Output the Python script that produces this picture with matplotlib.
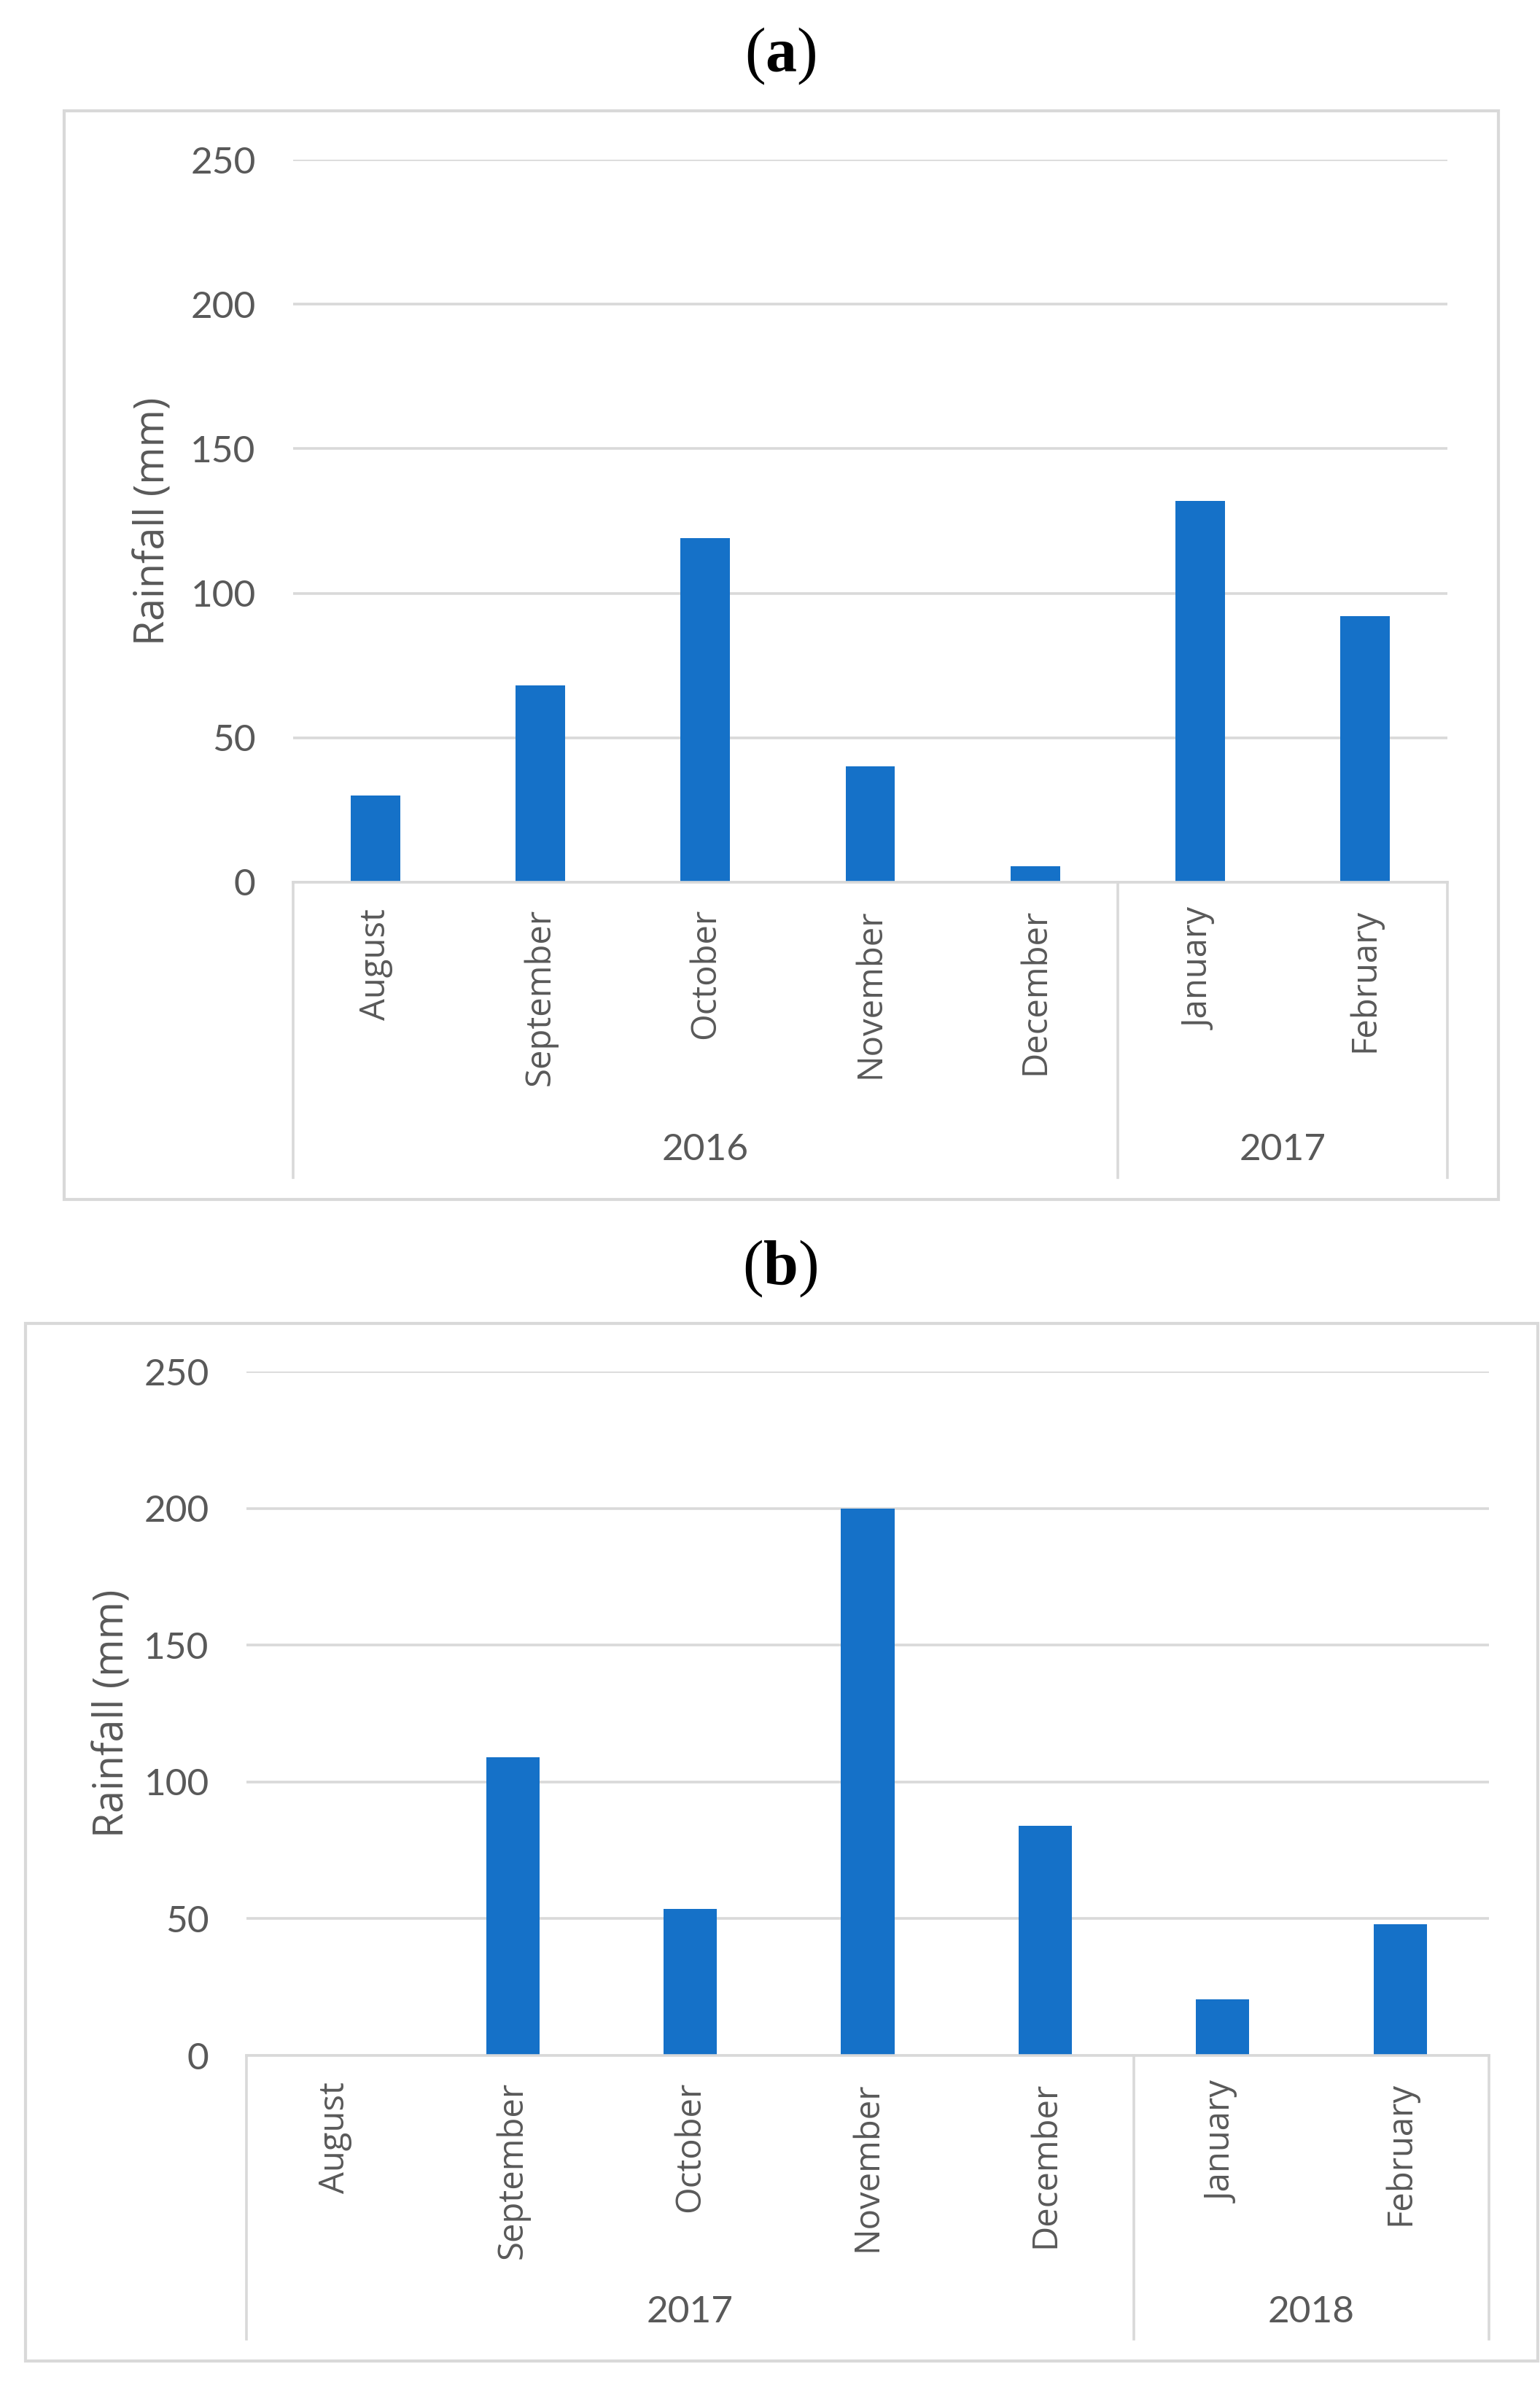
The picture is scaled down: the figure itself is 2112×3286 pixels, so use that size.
import matplotlib
matplotlib.use('Agg')
import matplotlib.pyplot as plt
from matplotlib.patches import Rectangle

# data
months = ['August', 'September', 'October', 'November', 'December', 'January', 'February']
years_a = ['2016', '2017']
years_b = ['2017', '2018']
year_span = [(0, 4), (5, 6)]
rain_a = [30, 68, 119, 40, 5.5, 132, 92]
rain_b = [0, 109, 53.5, 200, 84, 20.5, 48]
yticks = [0, 50, 100, 150, 200, 250]

W, H = 2112, 3286
DPI = 100
BAR = '#1571c8'
TXT = '#595959'
GRID = '#d9d9d9'

plt.rcParams['mathtext.fontset'] = 'custom'
plt.rcParams['mathtext.rm'] = 'Liberation Serif'
plt.rcParams['mathtext.bf'] = 'Liberation Serif:bold'

fig = plt.figure(figsize=(W / DPI, H / DPI), dpi=DPI)


def fx(px):
    return px / W


def fy(py):
    return 1 - py / H


def draw_panel(letter, values, years, box, plot, line_bottom, year_y, ylab_x, title_y):
    # outer frame
    bx0, by0, bx1, by1 = box
    fig.patches.append(Rectangle((fx(bx0), fy(by1)), fx(bx1 - bx0), (by1 - by0) / H,
                                 transform=fig.transFigure, fill=False,
                                 edgecolor=GRID, linewidth=3))
    fig.text(fx(1070), fy(title_y), '(' + r'$\mathbf{' + letter + '}$' + ')',
             ha='center', va='center', fontsize=62, family='Liberation Serif', color='black')

    px0, py0, px1, py1 = plot
    ax = fig.add_axes([fx(px0), fy(py1), fx(px1 - px0), (py1 - py0) / H])
    ax.bar(range(len(values)), values, width=0.3, color=BAR, zorder=3)
    ax.set_xlim(-0.5, len(values) - 0.5)
    ax.set_ylim(0, 250)
    for s in ax.spines.values():
        s.set_visible(False)
    ax.set_yticks(yticks)
    ax.yaxis.grid(True, color=GRID, linewidth=2.6, zorder=0)
    ax.tick_params(axis='y', length=0, pad=37, labelsize=37, labelcolor=TXT)
    for lab in ax.get_yticklabels():
        lab.set_family('Lato')
    ax.set_xticks(range(len(values)), months, rotation=90)
    ax.tick_params(axis='x', length=0, pad=26, labelsize=34, labelcolor=TXT)
    for lab in ax.get_xticklabels():
        lab.set_family('Open Sans')

    # category axis with year groups
    trans = ax.get_xaxis_transform()
    yb = (py1 - line_bottom) / (py1 - py0)
    ax.plot([-0.5, len(values) - 0.5], [0, 0], color=GRID, linewidth=2.6,
            transform=trans, clip_on=False, zorder=4)
    edges = [-0.5] + [s[1] + 0.5 for s in year_span]
    for e in edges:
        ax.plot([e, e], [0, yb], color=GRID, linewidth=2.6, transform=trans, clip_on=False)
    yy = (py1 - year_y) / (py1 - py0)
    for (s0, s1), yr in zip(year_span, years):
        ax.text((s0 + s1) / 2, yy, yr, transform=trans, ha='center', va='center',
                fontsize=37, family='Lato', color=TXT)

    fig.text(fx(ylab_x), fy((py0 + py1) / 2), 'Rainfall (mm)', rotation=90,
             ha='center', va='center', fontsize=40, family='Open Sans', color=TXT)
    return ax


draw_panel('a', rain_a, years_a, (88, 152, 2055, 1645), (402, 219, 1985, 1210),
           1615, 1577, 211, 77)
draw_panel('b', rain_b, years_b, (35, 1815, 2109, 3238), (338, 1881, 2042, 2819),
           3208, 3171, 155, 1740)

fig.savefig('out.png', dpi=DPI, facecolor='white')
